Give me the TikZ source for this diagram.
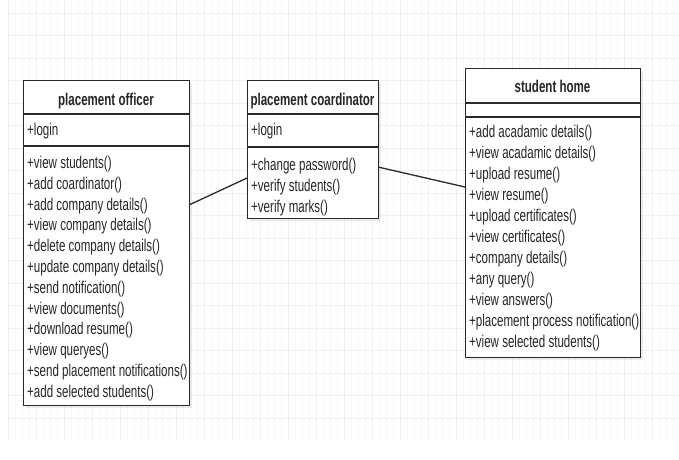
\documentclass[tikz,border=0pt]{standalone}
\usepackage{fontspec}
\setmainfont{Liberation Sans}[FakeStretch=0.68]
\usetikzlibrary{shadows}
\definecolor{boxcol}{HTML}{2A2A2A}
\definecolor{txtcol}{HTML}{262626}
\definecolor{gridmaj}{HTML}{EFEFEF}
\definecolor{gridmin}{HTML}{F7F7F7}
\begin{document}
\begin{tikzpicture}[x=1pt,y=-1pt,
  umlbox/.style={draw=boxcol, line width=1.3pt, fill=white, inner sep=0pt, anchor=north west,
    drop shadow={opacity=0.15, shadow xshift=2pt, shadow yshift=-2.5pt}},
  divider/.style={draw=boxcol, line width=1.3pt},
  ttl/.style={font=\bfseries\fontsize{17}{19}\selectfont, text=txtcol, inner sep=0pt, anchor=base},
  item/.style={font=\fontsize{17}{19}\selectfont, text=txtcol, inner sep=0pt, anchor=base west},
  conn/.style={draw=boxcol, line width=1.3pt}]
\useasboundingbox (0,0) rectangle (679,459);
\fill[white] (0,0) rectangle (679,459);
% background grid
\foreach \gx in {8,15,...,679} \draw[gridmin, line width=0.5pt] (\gx,0) -- (\gx,440);
\foreach \gx in {8,36,...,679} \draw[gridmaj, line width=0.6pt] (\gx,0) -- (\gx,440);
\foreach \gy in {13,35.5,...,440} \draw[gridmaj, line width=0.6pt] (8,\gy) -- (679,\gy);

% ---------- placement officer ----------
\node[umlbox, minimum width=166pt, minimum height=325pt] (po) at (23,80) {};
\draw[divider] ([yshift=-34pt]po.north west) -- ([yshift=-34pt]po.north east);
\draw[divider] ([yshift=-66pt]po.north west) -- ([yshift=-66pt]po.north east);
\node[ttl] (po-t) at (106,105) {placement officer};
\node[item] (po-a) at (27,135) {+login};
\foreach \t [count=\i from 0] in {+view students(),+add coardinator(),+add company details(),+view company details(),+delete company details(),+update company details(),+send notification(),+view documents(),+download resume(),+view queryes(),+send placement notifications(),+add selected students()}
  \node[item] (po-m\i) at (27,168.5+20.8*\i) {\t};

% ---------- placement coardinator ----------
\node[umlbox, minimum width=131pt, minimum height=138pt] (pc) at (247,80) {};
\draw[divider] ([yshift=-34pt]pc.north west) -- ([yshift=-34pt]pc.north east);
\draw[divider] ([yshift=-67pt]pc.north west) -- ([yshift=-67pt]pc.north east);
\node[ttl] (pc-t) at (312.5,105) {placement coardinator};
\node[item] (pc-a) at (251,135) {+login};
\node[item] (pc-m0) at (251,170) {+change password()};
\node[item] (pc-m1) at (251,191) {+verify students()};
\node[item] (pc-m2) at (251,212) {+verify marks()};

% ---------- student home ----------
\node[umlbox, minimum width=175pt, minimum height=289pt] (sh) at (465,68) {};
\draw[divider] ([yshift=-35pt]sh.north west) -- ([yshift=-35pt]sh.north east);
\draw[divider] ([yshift=-49pt]sh.north west) -- ([yshift=-49pt]sh.north east);
\node[ttl] (sh-t) at (552.5,92) {student home};
\foreach \t [count=\i from 0] in {+add acadamic details(),+view acadamic details(),+upload resume(),+view resume(),+upload certificates(),+view certificates(),+company details(),+any query(),+view answers(),+placement process notification(),+view selected students()}
  \node[item] (sh-m\i) at (469,137.5+21*\i) {\t};

% ---------- associations ----------
\coordinate (po-r) at (189,205);
\coordinate (pc-l) at (247,178);
\coordinate (pc-r) at (378,167);
\coordinate (sh-l) at (465,187);
\draw[conn] (po-r) -- (pc-l);
\draw[conn] (pc-r) -- (sh-l);
\end{tikzpicture}
\end{document}
